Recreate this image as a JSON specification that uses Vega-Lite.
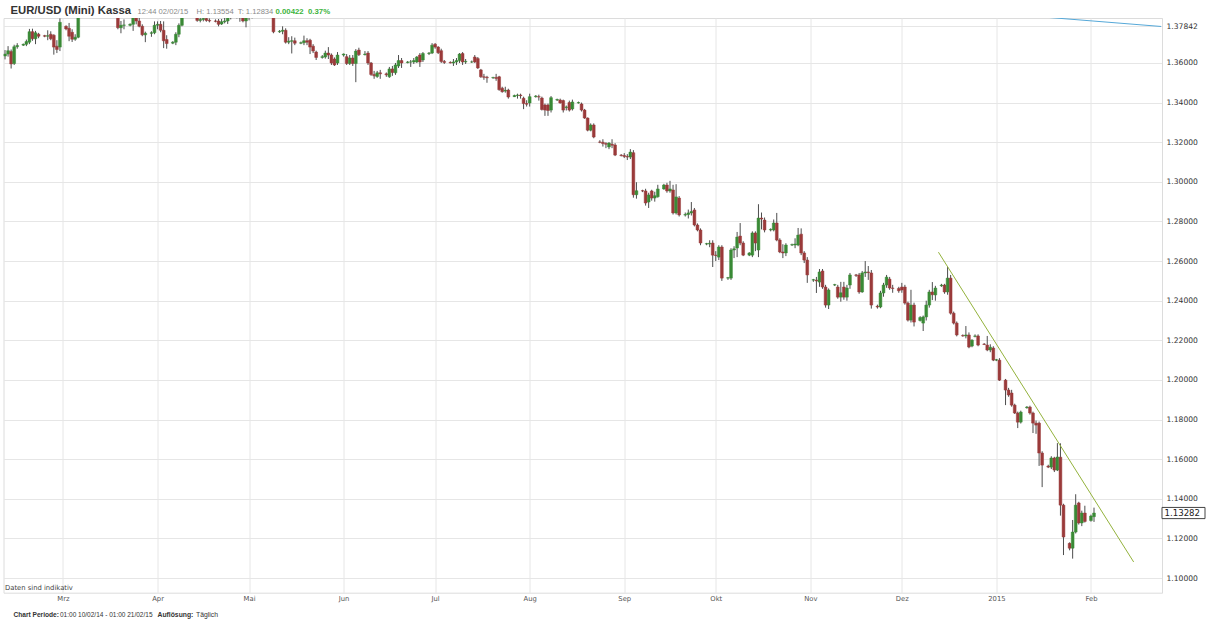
{
  "$schema": "https://vega.github.io/schema/vega-lite/v6.json",
  "width": 1158.5,
  "height": 574.7,
  "autosize": {"type": "none"},
  "padding": {"left": 3.5, "top": 18, "right": 48, "bottom": 32.3},
  "background": "white",
  "config": {"view": {"stroke": "#dcdcdc", "strokeWidth": 1}},
  "resolve": {"axis": {"x": "independent", "y": "independent"}},
  "data": {"values": [
{"d":"2014-02-10","o":1.3635,"h":1.3665,"l":1.3618,"c":1.3645},
{"d":"2014-02-11","o":1.3645,"h":1.3685,"l":1.3632,"c":1.3662},
{"d":"2014-02-12","o":1.3658,"h":1.3668,"l":1.3572,"c":1.3595},
{"d":"2014-02-13","o":1.3597,"h":1.3692,"l":1.3590,"c":1.3682},
{"d":"2014-02-14","o":1.3682,"h":1.3700,"l":1.3672,"c":1.3688},
{"d":"2014-02-16","o":1.3690,"h":1.3698,"l":1.3686,"c":1.3694},
{"d":"2014-02-17","o":1.3694,"h":1.3718,"l":1.3685,"c":1.3708},
{"d":"2014-02-18","o":1.3705,"h":1.3772,"l":1.3695,"c":1.3758},
{"d":"2014-02-19","o":1.3758,"h":1.3773,"l":1.3712,"c":1.3722},
{"d":"2014-02-20","o":1.3722,"h":1.3762,"l":1.3695,"c":1.3752},
{"d":"2014-02-21","o":1.3745,"h":1.3752,"l":1.3725,"c":1.3735},
{"d":"2014-02-23","o":1.3738,"h":1.3742,"l":1.3730,"c":1.3735},
{"d":"2014-02-24","o":1.3735,"h":1.3765,"l":1.3715,"c":1.3738},
{"d":"2014-02-25","o":1.3745,"h":1.3760,"l":1.3715,"c":1.3722},
{"d":"2014-02-26","o":1.3740,"h":1.3745,"l":1.3642,"c":1.3680},
{"d":"2014-02-27","o":1.3685,"h":1.3715,"l":1.3650,"c":1.3668},
{"d":"2014-02-28","o":1.3680,"h":1.3825,"l":1.3660,"c":1.3805},
{"d":"2014-03-02","o":1.3785,"h":1.3790,"l":1.3765,"c":1.3772},
{"d":"2014-03-03","o":1.3775,"h":1.3802,"l":1.3710,"c":1.3735},
{"d":"2014-03-04","o":1.3755,"h":1.3770,"l":1.3706,"c":1.3720},
{"d":"2014-03-05","o":1.3720,"h":1.3745,"l":1.3712,"c":1.3730},
{"d":"2014-03-06","o":1.3730,"h":1.3874,"l":1.3725,"c":1.3866},
{"d":"2014-03-07","o":1.3866,"h":1.3915,"l":1.3850,"c":1.3875},
{"d":"2014-03-09","o":1.3875,"h":1.3885,"l":1.3870,"c":1.3880},
{"d":"2014-03-10","o":1.3880,"h":1.3895,"l":1.3835,"c":1.3875},
{"d":"2014-03-11","o":1.3875,"h":1.3900,"l":1.3845,"c":1.3865},
{"d":"2014-03-12","o":1.3865,"h":1.3935,"l":1.3850,"c":1.3905},
{"d":"2014-03-13","o":1.3905,"h":1.3967,"l":1.3860,"c":1.3910},
{"d":"2014-03-14","o":1.3910,"h":1.3932,"l":1.3860,"c":1.3912},
{"d":"2014-03-16","o":1.3912,"h":1.3925,"l":1.3900,"c":1.3920},
{"d":"2014-03-17","o":1.3920,"h":1.3945,"l":1.3880,"c":1.3925},
{"d":"2014-03-18","o":1.3925,"h":1.3940,"l":1.3880,"c":1.3930},
{"d":"2014-03-19","o":1.3930,"h":1.3943,"l":1.3770,"c":1.3778},
{"d":"2014-03-20","o":1.3778,"h":1.3812,"l":1.3750,"c":1.3790},
{"d":"2014-03-21","o":1.3790,"h":1.3820,"l":1.3770,"c":1.3792},
{"d":"2014-03-23","o":1.3790,"h":1.3800,"l":1.3785,"c":1.3795},
{"d":"2014-03-24","o":1.3795,"h":1.3845,"l":1.3762,"c":1.3830},
{"d":"2014-03-25","o":1.3830,"h":1.3850,"l":1.3795,"c":1.3812},
{"d":"2014-03-26","o":1.3812,"h":1.3838,"l":1.3780,"c":1.3785},
{"d":"2014-03-27","o":1.3785,"h":1.3795,"l":1.3735,"c":1.3742},
{"d":"2014-03-28","o":1.3742,"h":1.3758,"l":1.3705,"c":1.3750},
{"d":"2014-03-30","o":1.3750,"h":1.3760,"l":1.3732,"c":1.3752},
{"d":"2014-03-31","o":1.3752,"h":1.3810,"l":1.3745,"c":1.3790},
{"d":"2014-04-01","o":1.3790,"h":1.3810,"l":1.3770,"c":1.3795},
{"d":"2014-04-02","o":1.3795,"h":1.3812,"l":1.3755,"c":1.3765},
{"d":"2014-04-03","o":1.3765,"h":1.3810,"l":1.3675,"c":1.3712},
{"d":"2014-04-04","o":1.3718,"h":1.3740,"l":1.3672,"c":1.3698},
{"d":"2014-04-06","o":1.3700,"h":1.3710,"l":1.3695,"c":1.3705},
{"d":"2014-04-07","o":1.3705,"h":1.3755,"l":1.3690,"c":1.3745},
{"d":"2014-04-08","o":1.3745,"h":1.3800,"l":1.3730,"c":1.3790},
{"d":"2014-04-09","o":1.3790,"h":1.3870,"l":1.3785,"c":1.3850},
{"d":"2014-04-10","o":1.3850,"h":1.3905,"l":1.3835,"c":1.3890},
{"d":"2014-04-11","o":1.3890,"h":1.3906,"l":1.3845,"c":1.3885},
{"d":"2014-04-13","o":1.3885,"h":1.3895,"l":1.3870,"c":1.3882},
{"d":"2014-04-14","o":1.3882,"h":1.3890,"l":1.3808,"c":1.3815},
{"d":"2014-04-15","o":1.3815,"h":1.3848,"l":1.3805,"c":1.3820},
{"d":"2014-04-16","o":1.3820,"h":1.3860,"l":1.3810,"c":1.3825},
{"d":"2014-04-17","o":1.3825,"h":1.3850,"l":1.3808,"c":1.3815},
{"d":"2014-04-18","o":1.3815,"h":1.3825,"l":1.3805,"c":1.3812},
{"d":"2014-04-20","o":1.3812,"h":1.3820,"l":1.3805,"c":1.3810},
{"d":"2014-04-21","o":1.3812,"h":1.3822,"l":1.3785,"c":1.3795},
{"d":"2014-04-22","o":1.3797,"h":1.3822,"l":1.3792,"c":1.3808},
{"d":"2014-04-23","o":1.3808,"h":1.3830,"l":1.3800,"c":1.3812},
{"d":"2014-04-24","o":1.3812,"h":1.3870,"l":1.3797,"c":1.3835},
{"d":"2014-04-25","o":1.3835,"h":1.3850,"l":1.3820,"c":1.3830},
{"d":"2014-04-27","o":1.3830,"h":1.3840,"l":1.3825,"c":1.3832},
{"d":"2014-04-28","o":1.3832,"h":1.3880,"l":1.3808,"c":1.3855},
{"d":"2014-04-29","o":1.3855,"h":1.3870,"l":1.3805,"c":1.3812},
{"d":"2014-04-30","o":1.3812,"h":1.3880,"l":1.3780,"c":1.3870},
{"d":"2014-05-01","o":1.3870,"h":1.3890,"l":1.3815,"c":1.3870},
{"d":"2014-05-02","o":1.3870,"h":1.3885,"l":1.3825,"c":1.3870},
{"d":"2014-05-04","o":1.3870,"h":1.3875,"l":1.3860,"c":1.3868},
{"d":"2014-05-05","o":1.3868,"h":1.3890,"l":1.3845,"c":1.3875},
{"d":"2014-05-06","o":1.3875,"h":1.3950,"l":1.3860,"c":1.3930},
{"d":"2014-05-07","o":1.3930,"h":1.3965,"l":1.3900,"c":1.3915},
{"d":"2014-05-08","o":1.3915,"h":1.3993,"l":1.3830,"c":1.3835},
{"d":"2014-05-09","o":1.3835,"h":1.3845,"l":1.3750,"c":1.3757},
{"d":"2014-05-11","o":1.3757,"h":1.3766,"l":1.3752,"c":1.3760},
{"d":"2014-05-12","o":1.3760,"h":1.3785,"l":1.3745,"c":1.3765},
{"d":"2014-05-13","o":1.3765,"h":1.3775,"l":1.3698,"c":1.3705},
{"d":"2014-05-14","o":1.3705,"h":1.3730,"l":1.3695,"c":1.3710},
{"d":"2014-05-15","o":1.3710,"h":1.3735,"l":1.3648,"c":1.3712},
{"d":"2014-05-16","o":1.3712,"h":1.3728,"l":1.3690,"c":1.3700},
{"d":"2014-05-18","o":1.3700,"h":1.3708,"l":1.3695,"c":1.3702},
{"d":"2014-05-19","o":1.3702,"h":1.3738,"l":1.3690,"c":1.3712},
{"d":"2014-05-20","o":1.3712,"h":1.3725,"l":1.3690,"c":1.3705},
{"d":"2014-05-21","o":1.3715,"h":1.3722,"l":1.3645,"c":1.3680},
{"d":"2014-05-22","o":1.3685,"h":1.3695,"l":1.3650,"c":1.3660},
{"d":"2014-05-23","o":1.3655,"h":1.3662,"l":1.3615,"c":1.3628},
{"d":"2014-05-25","o":1.3628,"h":1.3640,"l":1.3622,"c":1.3632},
{"d":"2014-05-26","o":1.3630,"h":1.3662,"l":1.3622,"c":1.3650},
{"d":"2014-05-27","o":1.3650,"h":1.3680,"l":1.3620,"c":1.3640},
{"d":"2014-05-28","o":1.3640,"h":1.3648,"l":1.3590,"c":1.3600},
{"d":"2014-05-29","o":1.3620,"h":1.3628,"l":1.3585,"c":1.3590},
{"d":"2014-05-30","o":1.3600,"h":1.3655,"l":1.3590,"c":1.3640},
{"d":"2014-06-01","o":1.3640,"h":1.3648,"l":1.3632,"c":1.3645},
{"d":"2014-06-02","o":1.3632,"h":1.3645,"l":1.3590,"c":1.3597},
{"d":"2014-06-03","o":1.3597,"h":1.3640,"l":1.3590,"c":1.3625},
{"d":"2014-06-04","o":1.3625,"h":1.3640,"l":1.3585,"c":1.3597},
{"d":"2014-06-05","o":1.3597,"h":1.3670,"l":1.3503,"c":1.3660},
{"d":"2014-06-06","o":1.3665,"h":1.3677,"l":1.3635,"c":1.3642},
{"d":"2014-06-08","o":1.3642,"h":1.3660,"l":1.3638,"c":1.3645},
{"d":"2014-06-09","o":1.3650,"h":1.3660,"l":1.3590,"c":1.3600},
{"d":"2014-06-10","o":1.3600,"h":1.3605,"l":1.3535,"c":1.3542},
{"d":"2014-06-11","o":1.3542,"h":1.3560,"l":1.3520,"c":1.3535},
{"d":"2014-06-12","o":1.3532,"h":1.3560,"l":1.3525,"c":1.3550},
{"d":"2014-06-13","o":1.3550,"h":1.3565,"l":1.3520,"c":1.3545},
{"d":"2014-06-15","o":1.3545,"h":1.3552,"l":1.3530,"c":1.3540},
{"d":"2014-06-16","o":1.3530,"h":1.3580,"l":1.3525,"c":1.3570},
{"d":"2014-06-17","o":1.3570,"h":1.3585,"l":1.3535,"c":1.3552},
{"d":"2014-06-18","o":1.3550,"h":1.3600,"l":1.3540,"c":1.3590},
{"d":"2014-06-19","o":1.3585,"h":1.3640,"l":1.3575,"c":1.3612},
{"d":"2014-06-20","o":1.3612,"h":1.3625,"l":1.3575,"c":1.3600},
{"d":"2014-06-22","o":1.3602,"h":1.3610,"l":1.3598,"c":1.3605},
{"d":"2014-06-23","o":1.3605,"h":1.3615,"l":1.3580,"c":1.3605},
{"d":"2014-06-24","o":1.3605,"h":1.3625,"l":1.3595,"c":1.3612},
{"d":"2014-06-25","o":1.3605,"h":1.3635,"l":1.3600,"c":1.3630},
{"d":"2014-06-26","o":1.3640,"h":1.3650,"l":1.3580,"c":1.3605},
{"d":"2014-06-27","o":1.3615,"h":1.3655,"l":1.3605,"c":1.3648},
{"d":"2014-06-29","o":1.3648,"h":1.3655,"l":1.3640,"c":1.3650},
{"d":"2014-06-30","o":1.3650,"h":1.3700,"l":1.3645,"c":1.3690},
{"d":"2014-07-01","o":1.3695,"h":1.3700,"l":1.3672,"c":1.3680},
{"d":"2014-07-02","o":1.3680,"h":1.3685,"l":1.3645,"c":1.3652},
{"d":"2014-07-03","o":1.3662,"h":1.3672,"l":1.3600,"c":1.3608},
{"d":"2014-07-04","o":1.3608,"h":1.3615,"l":1.3595,"c":1.3603},
{"d":"2014-07-06","o":1.3603,"h":1.3608,"l":1.3598,"c":1.3600},
{"d":"2014-07-07","o":1.3600,"h":1.3620,"l":1.3585,"c":1.3605},
{"d":"2014-07-08","o":1.3605,"h":1.3625,"l":1.3590,"c":1.3612},
{"d":"2014-07-09","o":1.3612,"h":1.3650,"l":1.3600,"c":1.3645},
{"d":"2014-07-10","o":1.3648,"h":1.3655,"l":1.3590,"c":1.3605},
{"d":"2014-07-11","o":1.3605,"h":1.3620,"l":1.3595,"c":1.3608},
{"d":"2014-07-13","o":1.3605,"h":1.3612,"l":1.3600,"c":1.3605},
{"d":"2014-07-14","o":1.3630,"h":1.3640,"l":1.3600,"c":1.3605},
{"d":"2014-07-15","o":1.3622,"h":1.3630,"l":1.3570,"c":1.3575},
{"d":"2014-07-16","o":1.3565,"h":1.3570,"l":1.3525,"c":1.3530},
{"d":"2014-07-17","o":1.3530,"h":1.3545,"l":1.3515,"c":1.3528},
{"d":"2014-07-18","o":1.3528,"h":1.3535,"l":1.3500,"c":1.3525},
{"d":"2014-07-20","o":1.3525,"h":1.3530,"l":1.3520,"c":1.3527},
{"d":"2014-07-21","o":1.3527,"h":1.3545,"l":1.3510,"c":1.3522},
{"d":"2014-07-22","o":1.3530,"h":1.3535,"l":1.3460,"c":1.3465},
{"d":"2014-07-23","o":1.3473,"h":1.3480,"l":1.3450,"c":1.3455},
{"d":"2014-07-24","o":1.3458,"h":1.3480,"l":1.3450,"c":1.3462},
{"d":"2014-07-25","o":1.3463,"h":1.3470,"l":1.3420,"c":1.3428},
{"d":"2014-07-27","o":1.3430,"h":1.3440,"l":1.3428,"c":1.3436},
{"d":"2014-07-28","o":1.3436,"h":1.3445,"l":1.3420,"c":1.3438},
{"d":"2014-07-29","o":1.3438,"h":1.3445,"l":1.3420,"c":1.3435},
{"d":"2014-07-30","o":1.3422,"h":1.3430,"l":1.3367,"c":1.3395},
{"d":"2014-07-31","o":1.3395,"h":1.3412,"l":1.3380,"c":1.3392},
{"d":"2014-08-01","o":1.3398,"h":1.3445,"l":1.3380,"c":1.3430},
{"d":"2014-08-03","o":1.3430,"h":1.3438,"l":1.3425,"c":1.3433},
{"d":"2014-08-04","o":1.3430,"h":1.3440,"l":1.3410,"c":1.3428},
{"d":"2014-08-05","o":1.3423,"h":1.3430,"l":1.3360,"c":1.3365},
{"d":"2014-08-06","o":1.3388,"h":1.3395,"l":1.3333,"c":1.3362},
{"d":"2014-08-07","o":1.3388,"h":1.3395,"l":1.3333,"c":1.3360},
{"d":"2014-08-08","o":1.3362,"h":1.3433,"l":1.3350,"c":1.3425},
{"d":"2014-08-10","o":1.3413,"h":1.3420,"l":1.3408,"c":1.3415},
{"d":"2014-08-11","o":1.3413,"h":1.3420,"l":1.3395,"c":1.3398},
{"d":"2014-08-12","o":1.3410,"h":1.3415,"l":1.3350,"c":1.3362},
{"d":"2014-08-13","o":1.3375,"h":1.3385,"l":1.3360,"c":1.3378},
{"d":"2014-08-14","o":1.3400,"h":1.3410,"l":1.3355,"c":1.3362},
{"d":"2014-08-15","o":1.3368,"h":1.3415,"l":1.3360,"c":1.3403},
{"d":"2014-08-17","o":1.3398,"h":1.3405,"l":1.3395,"c":1.3400},
{"d":"2014-08-18","o":1.3393,"h":1.3400,"l":1.3355,"c":1.3362},
{"d":"2014-08-19","o":1.3362,"h":1.3368,"l":1.3318,"c":1.3322},
{"d":"2014-08-20","o":1.3322,"h":1.3325,"l":1.3255,"c":1.3261},
{"d":"2014-08-21","o":1.3261,"h":1.3295,"l":1.3255,"c":1.3287},
{"d":"2014-08-22","o":1.3287,"h":1.3295,"l":1.3220,"c":1.3226},
{"d":"2014-08-24","o":1.3201,"h":1.3210,"l":1.3195,"c":1.3200},
{"d":"2014-08-25","o":1.3200,"h":1.3215,"l":1.3178,"c":1.3193},
{"d":"2014-08-26","o":1.3193,"h":1.3200,"l":1.3170,"c":1.3190},
{"d":"2014-08-27","o":1.3176,"h":1.3200,"l":1.3165,"c":1.3196},
{"d":"2014-08-28","o":1.3190,"h":1.3215,"l":1.3170,"c":1.3185},
{"d":"2014-08-29","o":1.3186,"h":1.3195,"l":1.3130,"c":1.3135},
{"d":"2014-08-31","o":1.3135,"h":1.3140,"l":1.3128,"c":1.3133},
{"d":"2014-09-01","o":1.3133,"h":1.3145,"l":1.3120,"c":1.3128},
{"d":"2014-09-02","o":1.3128,"h":1.3140,"l":1.3110,"c":1.3125},
{"d":"2014-09-03","o":1.3125,"h":1.3165,"l":1.3115,"c":1.3150},
{"d":"2014-09-04","o":1.3147,"h":1.3160,"l":1.2920,"c":1.2935},
{"d":"2014-09-05","o":1.2935,"h":1.2998,"l":1.2915,"c":1.2955},
{"d":"2014-09-07","o":1.2955,"h":1.2960,"l":1.2948,"c":1.2954},
{"d":"2014-09-08","o":1.2954,"h":1.2965,"l":1.2880,"c":1.2893},
{"d":"2014-09-09","o":1.2898,"h":1.2945,"l":1.2868,"c":1.2934},
{"d":"2014-09-10","o":1.2954,"h":1.2960,"l":1.2905,"c":1.2918},
{"d":"2014-09-11","o":1.2918,"h":1.2950,"l":1.2900,"c":1.2930},
{"d":"2014-09-12","o":1.2925,"h":1.2985,"l":1.2920,"c":1.2964},
{"d":"2014-09-14","o":1.2964,"h":1.2990,"l":1.2960,"c":1.2984},
{"d":"2014-09-15","o":1.2984,"h":1.2995,"l":1.2945,"c":1.2954},
{"d":"2014-09-16","o":1.2954,"h":1.3005,"l":1.2945,"c":1.2964},
{"d":"2014-09-17","o":1.2959,"h":1.2985,"l":1.2835,"c":1.2843},
{"d":"2014-09-18","o":1.2843,"h":1.2988,"l":1.2835,"c":1.2924},
{"d":"2014-09-19","o":1.2918,"h":1.2928,"l":1.2825,"c":1.2833},
{"d":"2014-09-21","o":1.2832,"h":1.2845,"l":1.2825,"c":1.2835},
{"d":"2014-09-22","o":1.2835,"h":1.2860,"l":1.2815,"c":1.2843},
{"d":"2014-09-23","o":1.2843,"h":1.2898,"l":1.2830,"c":1.2850},
{"d":"2014-09-24","o":1.2858,"h":1.2868,"l":1.2775,"c":1.2782},
{"d":"2014-09-25","o":1.2782,"h":1.2790,"l":1.2750,"c":1.2757},
{"d":"2014-09-26","o":1.2757,"h":1.2765,"l":1.2680,"c":1.2691},
{"d":"2014-09-28","o":1.2686,"h":1.2692,"l":1.2680,"c":1.2688},
{"d":"2014-09-29","o":1.2686,"h":1.2705,"l":1.2670,"c":1.2690},
{"d":"2014-09-30","o":1.2691,"h":1.2705,"l":1.2570,"c":1.2630},
{"d":"2014-10-01","o":1.2630,"h":1.2650,"l":1.2600,"c":1.2628},
{"d":"2014-10-02","o":1.2620,"h":1.2680,"l":1.2605,"c":1.2671},
{"d":"2014-10-03","o":1.2671,"h":1.2680,"l":1.2500,"c":1.2514},
{"d":"2014-10-05","o":1.2514,"h":1.2520,"l":1.2505,"c":1.2516},
{"d":"2014-10-06","o":1.2514,"h":1.2665,"l":1.2505,"c":1.2656},
{"d":"2014-10-07","o":1.2656,"h":1.2675,"l":1.2615,"c":1.2662},
{"d":"2014-10-08","o":1.2666,"h":1.2747,"l":1.2620,"c":1.2721},
{"d":"2014-10-09","o":1.2726,"h":1.2792,"l":1.2680,"c":1.2691},
{"d":"2014-10-10","o":1.2691,"h":1.2700,"l":1.2625,"c":1.2630},
{"d":"2014-10-12","o":1.2630,"h":1.2645,"l":1.2625,"c":1.2641},
{"d":"2014-10-13","o":1.2630,"h":1.2750,"l":1.2620,"c":1.2742},
{"d":"2014-10-14","o":1.2742,"h":1.2750,"l":1.2650,"c":1.2691},
{"d":"2014-10-15","o":1.2656,"h":1.2887,"l":1.2620,"c":1.2817},
{"d":"2014-10-16","o":1.2817,"h":1.2845,"l":1.2760,"c":1.2812},
{"d":"2014-10-17","o":1.2807,"h":1.2820,"l":1.2745,"c":1.2757},
{"d":"2014-10-19","o":1.2757,"h":1.2765,"l":1.2750,"c":1.2760},
{"d":"2014-10-20","o":1.2757,"h":1.2810,"l":1.2750,"c":1.2792},
{"d":"2014-10-21","o":1.2792,"h":1.2843,"l":1.2700,"c":1.2706},
{"d":"2014-10-22","o":1.2706,"h":1.2715,"l":1.2640,"c":1.2646},
{"d":"2014-10-23","o":1.2646,"h":1.2685,"l":1.2615,"c":1.2641},
{"d":"2014-10-24","o":1.2641,"h":1.2690,"l":1.2625,"c":1.2681},
{"d":"2014-10-26","o":1.2681,"h":1.2688,"l":1.2676,"c":1.2683},
{"d":"2014-10-27","o":1.2681,"h":1.2715,"l":1.2665,"c":1.2686},
{"d":"2014-10-28","o":1.2681,"h":1.2767,"l":1.2675,"c":1.2731},
{"d":"2014-10-29","o":1.2736,"h":1.2765,"l":1.2630,"c":1.2641},
{"d":"2014-10-30","o":1.2641,"h":1.2650,"l":1.2590,"c":1.2605},
{"d":"2014-10-31","o":1.2605,"h":1.2620,"l":1.2490,"c":1.2530},
{"d":"2014-11-02","o":1.2504,"h":1.2510,"l":1.2495,"c":1.2506},
{"d":"2014-11-03","o":1.2504,"h":1.2520,"l":1.2439,"c":1.2500},
{"d":"2014-11-04","o":1.2494,"h":1.2560,"l":1.2470,"c":1.2545},
{"d":"2014-11-05","o":1.2550,"h":1.2560,"l":1.2460,"c":1.2469},
{"d":"2014-11-06","o":1.2469,"h":1.2480,"l":1.2365,"c":1.2378},
{"d":"2014-11-07","o":1.2378,"h":1.2462,"l":1.2358,"c":1.2454},
{"d":"2014-11-09","o":1.2479,"h":1.2485,"l":1.2474,"c":1.2481},
{"d":"2014-11-10","o":1.2469,"h":1.2480,"l":1.2410,"c":1.2418},
{"d":"2014-11-11","o":1.2418,"h":1.2495,"l":1.2395,"c":1.2440},
{"d":"2014-11-12","o":1.2469,"h":1.2495,"l":1.2405,"c":1.2418},
{"d":"2014-11-13","o":1.2418,"h":1.2480,"l":1.2400,"c":1.2464},
{"d":"2014-11-14","o":1.2479,"h":1.2540,"l":1.2460,"c":1.2530},
{"d":"2014-11-16","o":1.2530,"h":1.2535,"l":1.2520,"c":1.2528},
{"d":"2014-11-17","o":1.2530,"h":1.2540,"l":1.2435,"c":1.2444},
{"d":"2014-11-18","o":1.2444,"h":1.2550,"l":1.2440,"c":1.2540},
{"d":"2014-11-19","o":1.2540,"h":1.2600,"l":1.2520,"c":1.2545},
{"d":"2014-11-20","o":1.2545,"h":1.2575,"l":1.2505,"c":1.2542},
{"d":"2014-11-21","o":1.2540,"h":1.2555,"l":1.2360,"c":1.2378},
{"d":"2014-11-23","o":1.2372,"h":1.2380,"l":1.2360,"c":1.2368},
{"d":"2014-11-24","o":1.2368,"h":1.2450,"l":1.2362,"c":1.2439},
{"d":"2014-11-25","o":1.2439,"h":1.2490,"l":1.2420,"c":1.2479},
{"d":"2014-11-26","o":1.2479,"h":1.2530,"l":1.2465,"c":1.2519},
{"d":"2014-11-27","o":1.2509,"h":1.2520,"l":1.2455,"c":1.2464},
{"d":"2014-11-28","o":1.2464,"h":1.2480,"l":1.2440,"c":1.2462},
{"d":"2014-11-30","o":1.2462,"h":1.2470,"l":1.2440,"c":1.2450},
{"d":"2014-12-01","o":1.2469,"h":1.2490,"l":1.2440,"c":1.2454},
{"d":"2014-12-02","o":1.2469,"h":1.2480,"l":1.2380,"c":1.2388},
{"d":"2014-12-03","o":1.2388,"h":1.2395,"l":1.2295,"c":1.2302},
{"d":"2014-12-04","o":1.2302,"h":1.2455,"l":1.2290,"c":1.2378},
{"d":"2014-12-05","o":1.2378,"h":1.2390,"l":1.2270,"c":1.2292},
{"d":"2014-12-07","o":1.2300,"h":1.2322,"l":1.2295,"c":1.2315},
{"d":"2014-12-08","o":1.2287,"h":1.2325,"l":1.2247,"c":1.2318},
{"d":"2014-12-09","o":1.2318,"h":1.2400,"l":1.2300,"c":1.2378},
{"d":"2014-12-10","o":1.2378,"h":1.2455,"l":1.2365,"c":1.2444},
{"d":"2014-12-11","o":1.2444,"h":1.2494,"l":1.2403,"c":1.2430},
{"d":"2014-12-12","o":1.2429,"h":1.2475,"l":1.2400,"c":1.2464},
{"d":"2014-12-14","o":1.2475,"h":1.2485,"l":1.2470,"c":1.2479},
{"d":"2014-12-15","o":1.2479,"h":1.2485,"l":1.2435,"c":1.2444},
{"d":"2014-12-16","o":1.2444,"h":1.2570,"l":1.2430,"c":1.2514},
{"d":"2014-12-17","o":1.2514,"h":1.2530,"l":1.2330,"c":1.2337},
{"d":"2014-12-18","o":1.2337,"h":1.2345,"l":1.2280,"c":1.2287},
{"d":"2014-12-19","o":1.2287,"h":1.2295,"l":1.2220,"c":1.2227},
{"d":"2014-12-21","o":1.2224,"h":1.2230,"l":1.2218,"c":1.2222},
{"d":"2014-12-22","o":1.2222,"h":1.2272,"l":1.2210,"c":1.2227},
{"d":"2014-12-23","o":1.2227,"h":1.2240,"l":1.2160,"c":1.2166},
{"d":"2014-12-24","o":1.2171,"h":1.2205,"l":1.2165,"c":1.2201},
{"d":"2014-12-25","o":1.2220,"h":1.2230,"l":1.2215,"c":1.2222},
{"d":"2014-12-26","o":1.2222,"h":1.2230,"l":1.2170,"c":1.2176},
{"d":"2014-12-28","o":1.2181,"h":1.2186,"l":1.2176,"c":1.2179},
{"d":"2014-12-29","o":1.2176,"h":1.2222,"l":1.2145,"c":1.2151},
{"d":"2014-12-30","o":1.2151,"h":1.2180,"l":1.2140,"c":1.2165},
{"d":"2014-12-31","o":1.2161,"h":1.2170,"l":1.2095,"c":1.2100},
{"d":"2015-01-01","o":1.2100,"h":1.2106,"l":1.2095,"c":1.2102},
{"d":"2015-01-02","o":1.2100,"h":1.2110,"l":1.1995,"c":1.1999},
{"d":"2015-01-04","o":1.1999,"h":1.2005,"l":1.1873,"c":1.1949},
{"d":"2015-01-05","o":1.1949,"h":1.1960,"l":1.1915,"c":1.1924},
{"d":"2015-01-06","o":1.1934,"h":1.1950,"l":1.1865,"c":1.1873},
{"d":"2015-01-07","o":1.1873,"h":1.1880,"l":1.1828,"c":1.1833},
{"d":"2015-01-08","o":1.1833,"h":1.1840,"l":1.1757,"c":1.1787},
{"d":"2015-01-09","o":1.1787,"h":1.1845,"l":1.1780,"c":1.1838},
{"d":"2015-01-11","o":1.1860,"h":1.1868,"l":1.1855,"c":1.1863},
{"d":"2015-01-12","o":1.1863,"h":1.1870,"l":1.1825,"c":1.1833},
{"d":"2015-01-13","o":1.1833,"h":1.1840,"l":1.1732,"c":1.1782},
{"d":"2015-01-14","o":1.1782,"h":1.1795,"l":1.1728,"c":1.1772},
{"d":"2015-01-15","o":1.1782,"h":1.1790,"l":1.1566,"c":1.1631},
{"d":"2015-01-16","o":1.1631,"h":1.1640,"l":1.1459,"c":1.1570},
{"d":"2015-01-18","o":1.1565,"h":1.1572,"l":1.1555,"c":1.1560},
{"d":"2015-01-19","o":1.1560,"h":1.1615,"l":1.1550,"c":1.1606},
{"d":"2015-01-20","o":1.1606,"h":1.1612,"l":1.1535,"c":1.1545},
{"d":"2015-01-21","o":1.1545,"h":1.1681,"l":1.1540,"c":1.1611},
{"d":"2015-01-22","o":1.1610,"h":1.1680,"l":1.1315,"c":1.1368},
{"d":"2015-01-23","o":1.1368,"h":1.1375,"l":1.1116,"c":1.1207},
{"d":"2015-01-25","o":1.1175,"h":1.1180,"l":1.1140,"c":1.1151},
{"d":"2015-01-26","o":1.1151,"h":1.1293,"l":1.1098,"c":1.1232},
{"d":"2015-01-27","o":1.1232,"h":1.1423,"l":1.1225,"c":1.1368},
{"d":"2015-01-28","o":1.1379,"h":1.1385,"l":1.1270,"c":1.1278},
{"d":"2015-01-29","o":1.1278,"h":1.1340,"l":1.1262,"c":1.1328},
{"d":"2015-01-30","o":1.1328,"h":1.1365,"l":1.1280,"c":1.1286},
{"d":"2015-02-01","o":1.1290,"h":1.1320,"l":1.1285,"c":1.1313},
{"d":"2015-02-02","o":1.1310,"h":1.13554,"l":1.12834,"c":1.13282}
  ]},
  "layer": [
    {
      "mark": {"type": "rule", "clip": true, "color": "#4d4d4d", "strokeWidth": 1},
      "encoding": {
        "x": {"field": "d", "type": "temporal",
          "scale": {"type": "utc", "padding": 0, "nice": false, "domain": [{"year": 2014, "month": 2, "date": 9, "hours": 12, "utc": true}, {"year": 2015, "month": 2, "date": 24, "hours": 7, "utc": true}]},
          "axis": {"orient": "bottom", "values": [
            {"year": 2014, "month": 3, "date": 1, "utc": true}, {"year": 2014, "month": 4, "date": 1, "utc": true},
            {"year": 2014, "month": 5, "date": 1, "utc": true}, {"year": 2014, "month": 6, "date": 1, "utc": true},
            {"year": 2014, "month": 7, "date": 1, "utc": true}, {"year": 2014, "month": 8, "date": 1, "utc": true},
            {"year": 2014, "month": 9, "date": 1, "utc": true}, {"year": 2014, "month": 10, "date": 1, "utc": true},
            {"year": 2014, "month": 11, "date": 1, "utc": true}, {"year": 2014, "month": 12, "date": 1, "utc": true},
            {"year": 2015, "month": 1, "date": 1, "utc": true}, {"year": 2015, "month": 2, "date": 1, "utc": true}],
            "labelExpr": "utcmonth(datum.value) == 0 ? utcFormat(datum.value, '%Y') : ['Jan','Feb','Mrz','Apr','Mai','Jun','Jul','Aug','Sep','Okt','Nov','Dez'][utcmonth(datum.value)]",
            "grid": true, "gridColor": "#e6e6e6", "gridWidth": 1, "ticks": false, "domain": false,
            "labelFlush": false, "labelOverlap": false, "labelPadding": 2.5,
            "labelFont": "DejaVu Sans", "labelFontSize": 6.8, "labelColor": "#555555",
            "title": "Chart Periode:", "titleX": 9.5, "titleY": 23.3, "titleAlign": "left", "titleBaseline": "alphabetic",
            "titleFont": "Liberation Sans", "titleFontSize": 6.6, "titleFontWeight": "bold", "titleColor": "#333333"}},
        "y": {"field": "l", "type": "quantitative",
          "scale": {"domain": [1.0926, 1.3827], "zero": false, "nice": false, "padding": 0},
          "axis": {"orient": "right", "values": [1.10, 1.12, 1.14, 1.16, 1.18, 1.20, 1.22, 1.24, 1.26, 1.28, 1.30, 1.32, 1.34, 1.36, 1.37842],
            "format": ".5f", "grid": true, "gridColor": "#e6e6e6", "gridWidth": 1, "ticks": false,
            "domain": true, "domainColor": "#dcdcdc", "labelOverlap": false, "labelPadding": 4,
            "labelFont": "DejaVu Sans", "labelFontSize": 7.6, "labelColor": "#333333", "title": null}},
        "y2": {"field": "h"}
      }
    },
    {
      "mark": {"type": "bar", "clip": true, "width": 2.8, "strokeWidth": 0.5},
      "encoding": {
        "x": {"field": "d", "type": "temporal",
          "scale": {"type": "utc", "padding": 0, "nice": false, "domain": [{"year": 2014, "month": 2, "date": 9, "hours": 12, "utc": true}, {"year": 2015, "month": 2, "date": 24, "hours": 7, "utc": true}]},
          "axis": {"orient": "bottom", "labels": false, "ticks": false, "domain": false, "grid": false,
            "title": "01:00 10/02/14 - 01:00 21/02/15", "titleX": 56, "titleY": 23.3, "titleAlign": "left", "titleBaseline": "alphabetic",
            "titleFont": "Liberation Sans", "titleFontSize": 6.5, "titleFontWeight": "normal", "titleColor": "#333333"}},
        "y": {"field": "o", "type": "quantitative",
          "scale": {"domain": [1.0926, 1.3827], "zero": false, "nice": false, "padding": 0},
          "axis": {"orient": "left", "labels": false, "ticks": false, "domain": false, "grid": false,
            "title": "Daten sind indikativ", "titleAngle": 0, "titleX": 1, "titleY": 571, "titleAlign": "left", "titleBaseline": "alphabetic",
            "titleFont": "DejaVu Sans", "titleFontSize": 6.8, "titleFontWeight": "normal", "titleColor": "#444444"}},
        "y2": {"field": "c"},
        "color": {"condition": {"test": "datum.c >= datum.o", "value": "#3a8a36"}, "value": "#9a3a3a"},
        "stroke": {"condition": {"test": "datum.c >= datum.o", "value": "#3a8a36"}, "value": "#9a3a3a"}
      }
    },
    {
      "data": {"values": [{"d": "2014-12-13", "v": 1.2645}, {"d": "2015-02-15", "v": 1.1081}]},
      "mark": {"type": "line", "clip": true, "color": "#93b23c", "strokeWidth": 1},
      "encoding": {
        "x": {"field": "d", "type": "temporal",
          "scale": {"type": "utc", "padding": 0, "nice": false, "domain": [{"year": 2014, "month": 2, "date": 9, "hours": 12, "utc": true}, {"year": 2015, "month": 2, "date": 24, "hours": 7, "utc": true}]},
          "axis": {"orient": "bottom", "labels": false, "ticks": false, "domain": false, "grid": false,
            "title": "Auflösung:", "titleX": 153.5, "titleY": 23.3, "titleAlign": "left", "titleBaseline": "alphabetic",
            "titleFont": "Liberation Sans", "titleFontSize": 6.8, "titleFontWeight": "bold", "titleColor": "#333333"}},
        "y": {"field": "v", "type": "quantitative",
          "scale": {"domain": [1.0926, 1.3827], "zero": false, "nice": false, "padding": 0},
          "axis": {"orient": "left", "labels": false, "ticks": false, "domain": false, "grid": false,
            "title": "EUR/USD (Mini) Kassa", "titleAngle": 0, "titleX": 6.5, "titleY": -4.7, "titleAlign": "left", "titleBaseline": "alphabetic",
            "titleFont": "Liberation Sans", "titleFontSize": 11.3, "titleFontWeight": "bold", "titleColor": "#333333"}}
      }
    },
    {
      "data": {"values": [{"d": "2015-01-01", "v": 1.3851}, {"d": "2015-02-24", "v": 1.37842}]},
      "mark": {"type": "line", "clip": true, "color": "#55a8d8", "strokeWidth": 1},
      "encoding": {
        "x": {"field": "d", "type": "temporal",
          "scale": {"type": "utc", "padding": 0, "nice": false, "domain": [{"year": 2014, "month": 2, "date": 9, "hours": 12, "utc": true}, {"year": 2015, "month": 2, "date": 24, "hours": 7, "utc": true}]},
          "axis": {"orient": "bottom", "labels": false, "ticks": false, "domain": false, "grid": false,
            "title": "Täglich", "titleX": 192, "titleY": 23.3, "titleAlign": "left", "titleBaseline": "alphabetic",
            "titleFont": "Liberation Sans", "titleFontSize": 6.8, "titleFontWeight": "normal", "titleColor": "#333333"}},
        "y": {"field": "v", "type": "quantitative",
          "scale": {"domain": [1.0926, 1.3827], "zero": false, "nice": false, "padding": 0},
          "axis": {"orient": "left", "labels": false, "ticks": false, "domain": false, "grid": false,
            "title": "12:44 02/02/15\u00a0\u00a0\u00a0 H: 1.13554\u00a0 T: 1.12834", "titleAngle": 0, "titleX": 133.5, "titleY": -5, "titleAlign": "left", "titleBaseline": "alphabetic",
            "titleFont": "Liberation Sans", "titleFontSize": 7.6, "titleFontWeight": "normal", "titleColor": "#8a8a8a"}}
      }
    },
    {
      "data": {"values": [{"t": "2015-02-24T07:00:00Z", "p": 1.13282, "label": "1.13282"}]},
      "mark": {"type": "point", "shape": "M0,-0.26L2,-0.26L2,0.26L0,0.26Z", "size": 1849, "filled": true, "fill": "white", "stroke": "#444444", "strokeWidth": 1, "opacity": 1, "fillOpacity": 1, "strokeOpacity": 1, "clip": false},
      "encoding": {
        "x": {"field": "t", "type": "temporal",
          "scale": {"type": "utc", "padding": 0, "nice": false, "domain": [{"year": 2014, "month": 2, "date": 9, "hours": 12, "utc": true}, {"year": 2015, "month": 2, "date": 24, "hours": 7, "utc": true}]},
          "axis": {"orient": "top", "labels": false, "ticks": false, "domain": false, "grid": false,
            "title": "0.00422\u00a0 0.37%", "titleX": 271.5, "titleY": -5, "titleAlign": "left", "titleBaseline": "alphabetic",
            "titleFont": "Liberation Sans", "titleFontSize": 7.8, "titleFontWeight": "bold", "titleColor": "#3cb43c"}},
        "y": {"field": "p", "type": "quantitative",
          "scale": {"domain": [1.0926, 1.3827], "zero": false, "nice": false, "padding": 0}, "axis": null}
      }
    },
    {
      "data": {"values": [{"t": "2015-02-24T07:00:00Z", "p": 1.13282, "label": "1.13282"}]},
      "mark": {"type": "text", "align": "left", "baseline": "middle", "dx": 2.5, "font": "DejaVu Sans", "fontSize": 8.6, "color": "#222222", "clip": false},
      "encoding": {
        "x": {"field": "t", "type": "temporal",
          "scale": {"type": "utc", "padding": 0, "nice": false, "domain": [{"year": 2014, "month": 2, "date": 9, "hours": 12, "utc": true}, {"year": 2015, "month": 2, "date": 24, "hours": 7, "utc": true}]},
          "axis": null},
        "y": {"field": "p", "type": "quantitative",
          "scale": {"domain": [1.0926, 1.3827], "zero": false, "nice": false, "padding": 0}, "axis": null},
        "text": {"field": "label"}
      }
    }
  ]
}
